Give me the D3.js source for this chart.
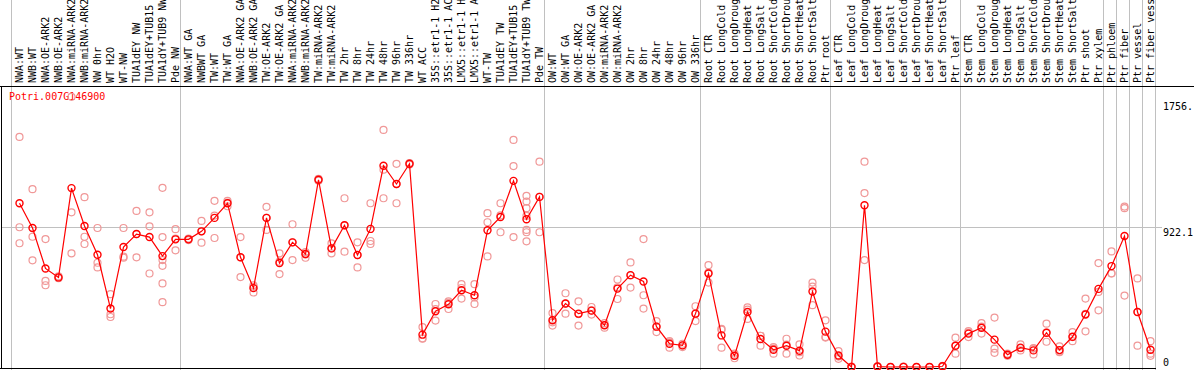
<!DOCTYPE html>
<html>
<head>
<meta charset="utf-8">
<script src="https://cdn.jsdelivr.net/npm/d3@7"></script>
<style>
  body { margin: 0; background: #fff; }
  svg text { font-family: "DejaVu Sans Mono", monospace; font-size: 10px; }
</style>
</head>
<body>
<div id="grafica"></div>
<script>
// sample names (one column each)
var samples = ["NWA:WT","NWB:WT","NWA:OE-ARK2","NWB:OE-ARK2","NWA:miRNA-ARK2","NWB:miRNA-ARK2",
  "NW 0hr","WT H2O","WT-NW","TUA1dEY NW","TUA1dEY+TUB15 NW","TUA1dY+TUB9 NW","Pde NW",
  "NWA:WT GA","NWBWT GA","TW:WT","TW:WT GA","NWA:OE-ARK2 GA","NWB:OE-ARK2 GA","TW:OE-ARK2",
  "TW:OE-ARK2 GA","NWA:miRNA-ARK2 GA","NWB:miRNA-ARK2 GA","TW:miRNA-ARK2","TW:miRNA-ARK2 GA",
  "TW 2hr","TW 8hr","TW 24hr","TW 48hr","TW 96hr","TW 336hr","WT ACC","35S::etr1-1 H2O",
  "35S::etr1-1 ACC","LMX5::etr1-1 H2O","LMX5::etr1-1 ACC","WT-TW","TUA1dEY TW","TUA1dEY+TUB15 TW",
  "TUA1dY+TUB9 TW","Pde TW",
  "OW:WT","OW:WT GA","OW:OE-ARK2","OW:OE-ARK2 GA","OW:miRNA-ARK2","OW:miRNA-ARK2 GA",
  "OW 2hr","OW 8hr","OW 24hr","OW 48hr","OW 96hr","OW 336hr",
  "Root CTR","Root LongCold","Root LongDrought","Root LongHeat","Root LongSalt","Root ShortCold",
  "Root ShortDrought","Root ShortHeat","Root ShortSalt","Ptr root",
  "Leaf CTR","Leaf LongCold","Leaf LongDrought","Leaf LongHeat","Leaf LongSalt","Leaf ShortCold",
  "Leaf ShortDrought","Leaf ShortHeat","Leaf ShortSalt","Ptr leaf",
  "Stem CTR","Stem LongCold","Stem LongDrought","Stem LongHeat","Stem LongSalt","Stem ShortCold",
  "Stem ShortDrought","Stem ShortHeat","Stem ShortSalt","Ptr shoot",
  "Ptr xylem","Ptr phloem","Ptr fiber","Ptr vessel","Ptr fiber vessel"];

// mean expression per sample
var means = [1084,920,652,593,1184,933,743,387,794,880,860,734,845,
  845,898,987,1084,726,522,987,688,825,748,1239,785,938,741,914,1332,1211,1345,
  214,369,415,508,475,905,993,1232,978,1126,
  309,420,353,373,276,519,608,566,267,154,143,353,
  619,209,74,364,185,114,141,108,500,234,
  76,0,1071,3,0,1,0,0,5,141,
  221,260,181,81,128,110,227,112,200,347,
  517,668,867,364,114];

// replicate values per sample
var reps = [[1523,925,819],[1177,862,706],[847,570,541],[600,590,588],[1788,1024,752],
  [1124,862,814],[920,690,659],[482,349,331],[920,730,723],[1033,880,726],[1024,931,619],
  [1186,860,708,670,553,429],[912,850,772],
  [850,845,840],[967,898,823],[1100,1002,854],[1100,1088,1064],[860,726,595],[541,530,493],
  [1060,987,907],[752,697,615],[945,825,708],[760,745,723],[1245,1239,1233],[818,785,752],
  [1117,938,763],[825,741,659],[1084,834,814],[1569,1306,1117],[1345,1211,1084],[1350,1345,1340],
  [264,190,187],[417,383,307],[435,425,384],[548,523,453],[548,460,417],[1018,958,732],
  [1084,1003,892],[1503,1330,860],[1133,1095,1051,1000,907,892,832],[1359,1126,892],
  [357,296,274],[488,420,353],[435,350,274],[397,375,347],[290,278,260],[579,528,450],
  [692,606,526],[847,475,387],[304,267,231],[171,163,128],[154,143,132],[402,353,304],
  [674,624,559],[247,252,128],[88,76,58],[380,394,318],[207,207,141],[132,122,88],
  [187,148,88],[150,98,76],[559,532,409],[309,195,198],
  [105,69,54],[3,0,0],[1359,1151,708],[5,3,1],[0,0,0],[2,1,0],[0,0,0],[0,0,0],[8,5,2],[194,141,88],
  [238,227,198],[291,268,221],[327,121,94],[88,81,74],[150,124,110],[125,122,83],[287,227,167],
  [136,102,98],[231,198,171],[453,352,236],
  [688,497,375],[765,619,620],[1062,1051,473],[586,364,141],[171,88,74]];

// last sample of each group (-1 = line before the first column)
var groupEnds = [-1, 12, 40, 52, 62, 72, 83, 84, 85, 86, 87];

// right-hand tick values and their labels
var tickValues = [1756, 922.1, 0];
var tickLabels = ["1756.", "922.1", "0"];

var geneName = "Potri.007G146900";

var width = 1194, height = 370;

var svg = d3.select("#grafica")
  .append("svg")
  .attr("width", width)
  .attr("height", height)
  .style("display", "block");

// x: one column every 13px
var x = d3.scalePoint()
  .domain(d3.range(samples.length))
  .range([19.5, 19.5 + (samples.length - 1) * 13]);

// y: linear, zero at the bottom frame
var y = d3.scaleLinear()
  .domain([0, 1756])
  .range([367, 101.7]);

// vertical group separators, through the header too
svg.append("g")
  .selectAll("line")
  .data(groupEnds)
  .join("line")
  .attr("x1", function(d) { return Math.floor(19.5 + d * 13 + 5) + 0.5; })
  .attr("x2", function(d) { return Math.floor(19.5 + d * 13 + 5) + 0.5; })
  .attr("y1", 0)
  .attr("y2", height)
  .attr("stroke", "#c0c0c0")
  .attr("stroke-width", 1);

// horizontal grid line at the middle tick
svg.append("line")
  .attr("x1", 1)
  .attr("x2", 1162)
  .attr("y1", Math.floor(y(922.1)) + 0.5)
  .attr("y2", Math.floor(y(922.1)) + 0.5)
  .attr("stroke", "#c0c0c0");

// frame: top, left, bottom
svg.append("line")
  .attr("x1", 0).attr("x2", width)
  .attr("y1", 86.5).attr("y2", 86.5)
  .attr("stroke", "black");
svg.append("line")
  .attr("x1", 1.5).attr("x2", 1.5)
  .attr("y1", 86).attr("y2", 369)
  .attr("stroke", "black");
svg.append("line")
  .attr("x1", 0).attr("x2", 1156)
  .attr("y1", 368.5).attr("y2", 368.5)
  .attr("stroke", "black");

// sample labels, vertical
svg.append("g")
  .selectAll("text")
  .data(samples)
  .join("text")
  .attr("transform", function(d, i) { return "translate(" + (x(i) + 3.5) + ",83) rotate(-90)"; })
  .attr("fill", "black")
  .text(function(d) { return d; });

// gene name
svg.append("text")
  .attr("x", 9)
  .attr("y", 100)
  .attr("fill", "red")
  .text(geneName);

// right tick labels
svg.append("g")
  .selectAll("text")
  .data(tickValues)
  .join("text")
  .attr("x", 1163)
  .attr("y", function(d) { return Math.min(y(d) + 8.5, 366); })
  .attr("fill", "black")
  .text(function(d, i) { return tickLabels[i]; });

// replicate circles
var repPoints = [];
reps.forEach(function(r, i) {
  r.forEach(function(v) { repPoints.push({i: i, v: v}); });
});
svg.append("g")
  .selectAll("circle")
  .data(repPoints)
  .join("circle")
  .attr("cx", function(d) { return x(d.i); })
  .attr("cy", function(d) { return y(d.v); })
  .attr("r", 3.5)
  .attr("fill", "none")
  .attr("stroke", "#f09898")
  .attr("stroke-width", 1.2);

// mean line
svg.append("path")
  .datum(means)
  .attr("fill", "none")
  .attr("stroke", "red")
  .attr("stroke-width", 1.2)
  .attr("d", d3.line()
    .x(function(d, i) { return x(i); })
    .y(function(d) { return y(d); }));

// mean circles
svg.append("g")
  .selectAll("circle")
  .data(means)
  .join("circle")
  .attr("cx", function(d, i) { return x(i); })
  .attr("cy", function(d) { return y(d); })
  .attr("r", 3.5)
  .attr("fill", "none")
  .attr("stroke", "red")
  .attr("stroke-width", 1.4);
</script>
</body>
</html>
